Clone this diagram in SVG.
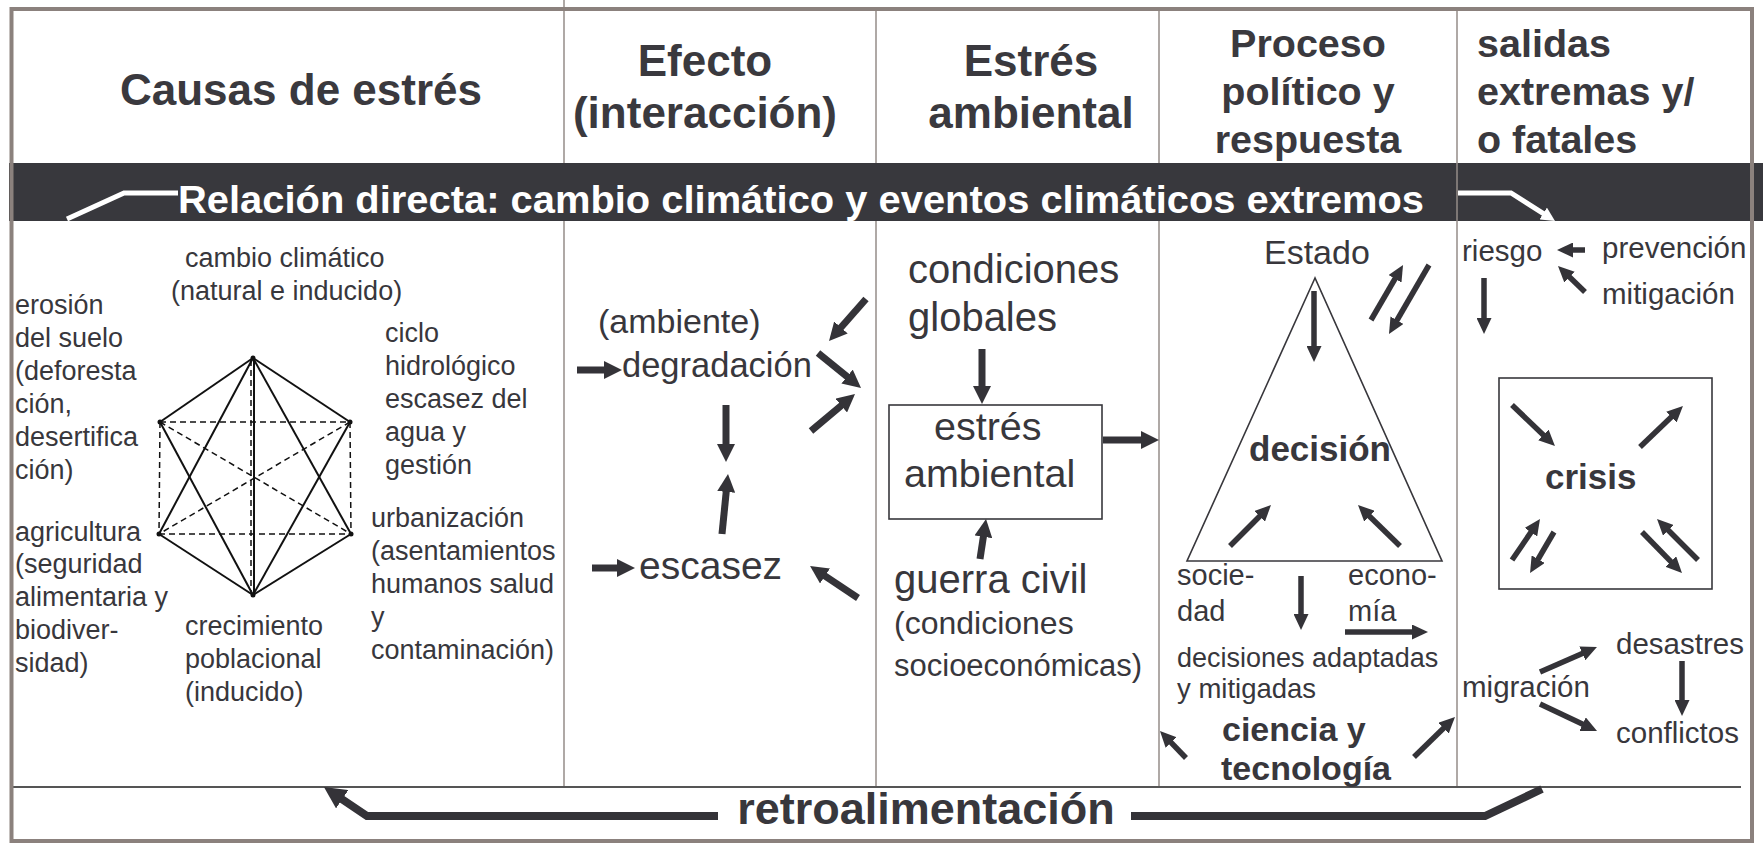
<svg xmlns="http://www.w3.org/2000/svg" width="1763" height="843" viewBox="0 0 1763 843">
<defs>
<style>
text{font-family:"Liberation Sans",Arial,sans-serif;fill:#38373c}
.h1{font-weight:bold;font-size:44px;text-anchor:middle;fill:#3a393e}
.h2{font-weight:bold;font-size:39.5px;fill:#3a393e}
.band{font-weight:bold;font-size:39px;fill:#ffffff}
.c1{font-size:27px}
.b{font-weight:bold}
.big{stroke:#343338;stroke-width:7;fill:none;marker-end:url(#ah)}
.sm{stroke:#343338;stroke-width:5.5;fill:none;marker-end:url(#as)}
.hs{stroke:#111;stroke-width:2;fill:none}
.hd{stroke:#111;stroke-width:1.5;fill:none;stroke-dasharray:6 4}
.div{stroke:#958c89;stroke-width:1.5}
</style>
<marker id="ah" markerUnits="userSpaceOnUse" viewBox="0 0 18 18" markerWidth="18" markerHeight="18" refX="7" refY="9" orient="auto"><path d="M0,0 L18,9 L0,18 z" fill="#343338"/></marker>
<marker id="as" markerUnits="userSpaceOnUse" viewBox="0 0 16 15" markerWidth="16" markerHeight="15" refX="5" refY="7.5" orient="auto"><path d="M0,0 L16,7.5 L0,15 z" fill="#343338"/></marker>
<marker id="ar" markerUnits="userSpaceOnUse" viewBox="0 0 22 22" markerWidth="22" markerHeight="22" refX="10" refY="11" orient="auto"><path d="M0,0 L22,11 L0,22 z" fill="#343338"/></marker>
<marker id="aw" markerUnits="userSpaceOnUse" viewBox="0 0 14 14" markerWidth="14" markerHeight="14" refX="5" refY="7" orient="auto"><path d="M0,0 L14,7 L0,14 z" fill="#ffffff"/></marker>
</defs>
<rect x="0" y="0" width="1763" height="843" fill="#ffffff"/>

<g id="frame">
<line class="div" x1="564" y1="0" x2="564" y2="787"/>
<line class="div" x1="876" y1="10" x2="876" y2="787"/>
<line class="div" x1="1159" y1="10" x2="1159" y2="787"/>
<line class="div" x1="1457" y1="10" x2="1457" y2="787"/>
<rect x="9" y="163" width="1754" height="58" fill="#38383d"/>
<line class="div" x1="1457" y1="163" x2="1457" y2="221"/>
<line x1="13" y1="787" x2="1741" y2="787" stroke="#555" stroke-width="2"/>
<rect x="11.5" y="9" width="1740.5" height="832" fill="none" stroke="#8b817d" stroke-width="4"/>
</g>

<g id="headers">
<text class="h1" x="301" y="105">Causas de estrés</text>
<text class="h1" x="705" y="76">Efecto</text>
<text class="h1" x="705" y="128">(interacción)</text>
<text class="h1" x="1031" y="76">Estrés</text>
<text class="h1" x="1031" y="128">ambiental</text>
<text class="h2" x="1308" y="57" text-anchor="middle">Proceso</text>
<text class="h2" x="1308" y="105" text-anchor="middle">político y</text>
<text class="h2" x="1308" y="153" text-anchor="middle">respuesta</text>
<text class="h2" x="1477" y="57">salidas</text>
<text class="h2" x="1477" y="105">extremas y/</text>
<text class="h2" x="1477" y="153">o fatales</text>
</g>

<g id="band-label">
<text class="band" x="178" y="213" textLength="1246" lengthAdjust="spacingAndGlyphs">Relación directa: cambio climático y eventos climáticos extremos</text>
</g>

<g id="causes">
<g id="hexagon">
<line class="hd" x1="160" y1="422" x2="350" y2="422"/>
<line class="hd" x1="159" y1="534" x2="351" y2="534" stroke-width="2"/>
<line class="hd" x1="160" y1="422" x2="159" y2="534"/>
<line class="hd" x1="350" y1="422" x2="351" y2="534"/>
<line class="hd" x1="160" y1="422" x2="351" y2="534"/>
<line class="hd" x1="350" y1="422" x2="159" y2="534"/>
<line class="hd" x1="251" y1="360" x2="251" y2="593"/>
<line class="hs" x1="253" y1="358" x2="160" y2="422" stroke-width="2.6"/>
<line class="hs" x1="253" y1="358" x2="350" y2="422" stroke-width="2.6"/>
<line class="hs" x1="253" y1="358" x2="159" y2="534"/>
<line class="hs" x1="253" y1="358" x2="351" y2="534"/>
<line class="hs" x1="254" y1="358" x2="254" y2="595" stroke-width="1.6"/>
<line class="hs" x1="160" y1="422" x2="253" y2="595" stroke-width="1.6"/>
<line class="hs" x1="350" y1="422" x2="253" y2="595" stroke-width="1.6"/>
<line class="hs" x1="159" y1="534" x2="253" y2="595"/>
<line class="hs" x1="351" y1="534" x2="253" y2="595"/>
<g fill="#111"><circle cx="253" cy="358" r="2.5"/><circle cx="160" cy="422" r="2.5"/><circle cx="350" cy="422" r="2.5"/><circle cx="159" cy="534" r="2.5"/><circle cx="351" cy="534" r="2.5"/><circle cx="253" cy="595" r="2.5"/></g>
</g>
<g id="lbl-cambio"><text class="c1" x="185" y="267">cambio climático</text><text class="c1" x="171" y="300">(natural e inducido)</text></g>
<g id="lbl-erosion"><text class="c1" x="15" y="314">erosión</text><text class="c1" x="15" y="347">del suelo</text><text class="c1" x="15" y="380">(deforesta</text><text class="c1" x="15" y="413">ción,</text><text class="c1" x="15" y="446">desertifica</text><text class="c1" x="15" y="479">ción)</text></g>
<g id="lbl-agricultura"><text class="c1" x="15" y="541">agricultura</text><text class="c1" x="15" y="573">(seguridad</text><text class="c1" x="15" y="606">alimentaria y</text><text class="c1" x="15" y="639">biodiver-</text><text class="c1" x="15" y="672">sidad)</text></g>
<g id="lbl-ciclo"><text class="c1" x="385" y="342">ciclo</text><text class="c1" x="385" y="375">hidrológico</text><text class="c1" x="385" y="408">escasez del</text><text class="c1" x="385" y="441">agua y</text><text class="c1" x="385" y="474">gestión</text></g>
<g id="lbl-urbanizacion"><text class="c1" x="371" y="527">urbanización</text><text class="c1" x="371" y="560">(asentamientos</text><text class="c1" x="371" y="593">humanos salud</text><text class="c1" x="371" y="626">y</text><text class="c1" x="371" y="659">contaminación)</text></g>
<g id="lbl-crecimiento"><text class="c1" x="185" y="635">crecimiento</text><text class="c1" x="185" y="668">poblacional</text><text class="c1" x="185" y="701">(inducido)</text></g>
</g>

<g id="degradacion"><text x="598" y="333" font-size="34">(ambiente)</text><text x="622" y="377" font-size="34.5">degradación</text></g>
<g id="escasez"><text x="639" y="579" font-size="39">escasez</text></g>

<g id="condiciones-globales"><text x="908" y="283" font-size="40">condiciones</text><text x="908" y="331" font-size="40">globales</text></g>
<g id="estres-ambiental"><rect x="889" y="405" width="213" height="114" fill="none" stroke="#38373c" stroke-width="1.6"/><text x="934" y="440" font-size="39.5">estrés</text><text x="904" y="487" font-size="39.5">ambiental</text></g>
<g id="guerra-civil"><text x="894" y="593" font-size="40">guerra civil</text><text x="894" y="634" font-size="32">(condiciones</text><text x="894" y="676" font-size="31">socioeconómicas)</text></g>

<g id="estado"><text x="1264" y="264" font-size="34">Estado</text></g>
<g id="decision"><polygon points="1315,278 1187,561 1442,561" fill="none" stroke="#38373c" stroke-width="1.6"/><text class="b" x="1249" y="461" font-size="35">decisión</text></g>
<g id="sociedad"><text x="1177" y="585" font-size="29">socie-</text><text x="1177" y="621" font-size="29">dad</text></g>
<g id="economia"><text x="1348" y="585" font-size="29">econo-</text><text x="1348" y="621" font-size="29">mía</text></g>
<g id="decisiones-adaptadas"><text x="1177" y="667" font-size="27">decisiones adaptadas</text><text x="1177" y="698" font-size="27.5">y mitigadas</text></g>
<g id="ciencia"><text class="b" x="1222" y="741" font-size="34">ciencia y</text><text class="b" x="1221" y="780" font-size="34">tecnología</text></g>

<g id="riesgo"><text x="1462" y="261" font-size="29.5">riesgo</text></g>
<g id="prevencion"><text x="1602" y="258" font-size="29.5">prevención</text><text x="1602" y="304" font-size="29.5">mitigación</text></g>
<g id="crisis"><rect x="1499" y="378" width="213" height="211" fill="none" stroke="#38373c" stroke-width="1.6"/><text class="b" x="1545" y="489" font-size="35">crisis</text></g>
<g id="desastres"><text x="1616" y="654" font-size="29.5">desastres</text></g>
<g id="migracion"><text x="1462" y="697" font-size="29.5">migración</text></g>
<g id="conflictos"><text x="1616" y="743" font-size="29.5">conflictos</text></g>

<g id="retroalimentacion"><text class="b" x="926" y="824" font-size="45" text-anchor="middle">retroalimentación</text></g>

<g id="connectors">
<polyline points="67,219 124,193 178,193" fill="none" stroke="#fff" stroke-width="5"/>
<polyline points="1458,193 1511,193 1547.4,216.2" fill="none" stroke="#fff" stroke-width="5" marker-end="url(#aw)"/>
<polyline points="1542,789 1485,816 1131,816" fill="none" stroke="#343338" stroke-width="8"/>
<polyline points="718,816 367,816 333.9,793.7" fill="none" stroke="#343338" stroke-width="8" marker-end="url(#ar)"/>
<line class="big" x1="577" y1="370" x2="611" y2="370"/>
<line class="big" x1="592" y1="568" x2="624" y2="568"/>
<line class="big" x1="726" y1="405" x2="726" y2="451"/>
<line class="big" x1="722" y1="534" x2="726.9" y2="485"/>
<line class="big" x1="866" y1="299" x2="836.3" y2="332.7"/>
<line class="big" x1="818" y1="353" x2="852.5" y2="381"/>
<line class="big" x1="811" y1="431" x2="846.6" y2="401.1"/>
<line class="big" x1="858" y1="598" x2="819.2" y2="572.1"/>
<line class="big" x1="982" y1="349" x2="982" y2="393"/>
<line class="big" x1="980" y1="559" x2="984.4" y2="529.9"/>
<line class="big" x1="1103" y1="440" x2="1148" y2="440"/>
<line class="sm" x1="1314" y1="291" x2="1314" y2="351"/>
<line class="sm" x1="1230" y1="546" x2="1263.2" y2="512.8"/>
<line class="sm" x1="1400" y1="546" x2="1365.9" y2="512.7"/>
<line class="sm" x1="1371" y1="320" x2="1397.5" y2="274.5"/>
<line class="sm" x1="1429" y1="265" x2="1394.5" y2="324.5"/>
<line class="sm" x1="1301" y1="576" x2="1301" y2="619"/>
<line class="sm" x1="1345" y1="632" x2="1417" y2="632"/>
<line class="sm" x1="1186" y1="758" x2="1167.6" y2="738.9"/>
<line class="sm" x1="1414" y1="757" x2="1447.1" y2="724.7"/>
<line class="sm" x1="1585" y1="250" x2="1568" y2="250"/>
<line class="sm" x1="1585" y1="292" x2="1565.9" y2="273.6"/>
<line class="sm" x1="1484" y1="278" x2="1484" y2="323"/>
<line class="sm" x1="1512" y1="405" x2="1547" y2="438.4"/>
<line class="sm" x1="1640" y1="447" x2="1675" y2="413.6"/>
<line class="sm" x1="1512" y1="560" x2="1533.8" y2="528.1"/>
<line class="sm" x1="1554" y1="532" x2="1535.6" y2="563.5"/>
<line class="sm" x1="1642" y1="532" x2="1674.3" y2="565.1"/>
<line class="sm" x1="1698" y1="560" x2="1664.8" y2="526.8"/>
<line class="sm" x1="1540" y1="672" x2="1586.9" y2="651.4"/>
<line class="sm" x1="1540" y1="704" x2="1587.1" y2="726.3"/>
<line class="sm" x1="1682" y1="661" x2="1682" y2="705"/>
</g>
</svg>
